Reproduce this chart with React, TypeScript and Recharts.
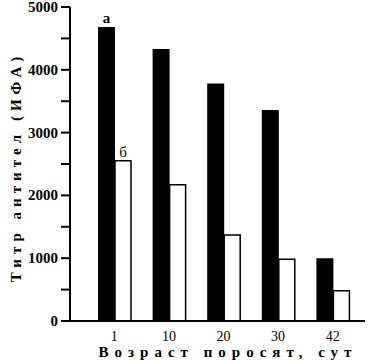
import { BarChart, Bar, XAxis, YAxis, Label, LabelList } from "recharts";

const ages = ["1", "10", "20", "30", "42"];
const titreA = [4680, 4330, 3780, 3360, 1000];
const titreB = [2550, 2170, 1370, 985, 480];
const notesA = ["а", "", "", "", ""];
const notesB = ["б", "", "", "", ""];
const yTicks = [0, 500, 1000, 1500, 2000, 2500, 3000, 3500, 4000, 4500, 5000];

const data = ages.map((age, i) => ({
  age,
  a: titreA[i],
  b: titreB[i],
  noteA: notesA[i],
  noteB: notesB[i],
}));

const serif = "'Liberation Serif', 'DejaVu Serif', serif";

const YTick = (props: any) => {
  const { x, y, payload } = props;
  if (payload.value % 1000 !== 0) return null;
  return (
    <text x={x} y={y} dy={5} textAnchor="end" fontFamily={serif} fontSize={15} fontWeight="bold" fill="#000">
      {payload.value}
    </text>
  );
};

const App = () => {
  return (
    <div style={{ position: "absolute", left: 0, top: 0 }}>
      <BarChart
        width={368}
        height={362}
        data={data}
        margin={{ top: 7, right: 3, left: 0, bottom: 0 }}
        barGap={0}
        barCategoryGap={0}
      >
        <XAxis
          dataKey="age"
          height={41}
          padding={{ left: 17, right: 5 }}
          tickLine={false}
          axisLine={{ stroke: "#000", strokeWidth: 2 }}
          tick={{ fill: "#000", fontFamily: serif, fontSize: 14 }}
          tickMargin={4}
        >
          <Label
            content={() => (
              <text x={228} y={357} textAnchor="middle" fontFamily={serif} fontSize={15} fontWeight="bold" letterSpacing={6} fill="#000">
                Возраст поросят, сут
              </text>
            )}
          />
        </XAxis>
        <YAxis
          width={70}
          domain={[0, 5000]}
          ticks={yTicks}
          interval={0}
          tickSize={9}
          tickMargin={3}
          tickLine={{ stroke: "#000", strokeWidth: 2 }}
          axisLine={{ stroke: "#000", strokeWidth: 2 }}
          tick={<YTick />}
        >
          <Label
            content={() => (
              <text
                x={18}
                y={167}
                transform="rotate(-90 18 167)"
                textAnchor="middle"
                dominantBaseline="middle"
                fontFamily={serif}
                fontSize={15}
                fontWeight="bold"
                letterSpacing={5}
                fill="#000"
              >
                Титр антител (ИФА)
              </text>
            )}
          />
        </YAxis>
        <Bar dataKey="a" fill="#000" barSize={17} isAnimationActive={false}>
          <LabelList dataKey="noteA" position="top" offset={4} fill="#000" fontFamily={serif} fontSize={15} fontWeight="bold" />
        </Bar>
        <Bar dataKey="b" fill="#fff" stroke="#000" strokeWidth={1.5} barSize={16} isAnimationActive={false}>
          <LabelList dataKey="noteB" position="top" offset={4} fill="#000" fontFamily={serif} fontSize={15} />
        </Bar>
      </BarChart>
    </div>
  );
};

export default App;
